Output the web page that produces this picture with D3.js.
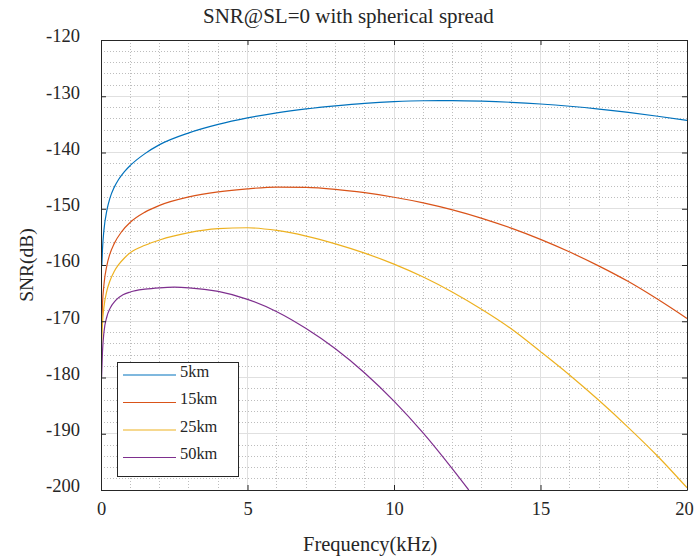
<!DOCTYPE html>
<html>
<head>
<meta charset="utf-8">
<script src="https://d3js.org/d3.v7.min.js"></script>
<style>
  body { margin: 0; background: #fff; }
  text { font-family: "Liberation Serif", "DejaVu Serif", serif; fill: #262626; }
</style>
</head>
<body>
<div id="vis"></div>
<script>
// values (frequency in kHz, SNR in dB)
const seriesNames = ['5km', '15km', '25km', '50km']
const colors = ['#0072BD', '#D95319', '#EDB120', '#7E2F8E']

const snr5 = [[0.03, -160], [0.05, -157.3], [0.1, -153.8], [0.2, -150.3], [0.3, -148.2], [0.45, -146.2], [0.6, -144.8], [0.8, -143.4], [1, -142.3], [1.5, -140.2], [2, -138.6], [3, -136.5], [4, -135.0], [5, -133.85], [6, -132.95], [7, -132.25], [8, -131.7], [9, -131.25], [10, -130.95], [11, -130.8], [12, -130.78], [13, -130.88], [14, -131.08], [15, -131.38], [16, -131.78], [17, -132.28], [18, -132.88], [19, -133.56], [20, -134.3]]
const snr15 = [[0.03, -170], [0.05, -167], [0.1, -163.5], [0.2, -160.1], [0.3, -158.1], [0.45, -156.2], [0.7, -154.1], [1, -152.4], [1.5, -150.6], [2, -149.4], [3, -147.9], [4, -147.0], [5, -146.45], [6, -146.15], [7, -146.2], [8, -146.55], [9, -147.15], [10, -147.95], [11, -148.95], [12, -150.2], [13, -151.7], [14, -153.45], [15, -155.45], [16, -157.7], [17, -160.2], [18, -162.95], [19, -166.1], [20, -169.5]]
const snr25 = [[0.02, -174], [0.05, -170.4], [0.1, -167.5], [0.2, -164.6], [0.3, -162.9], [0.45, -161.15], [0.6, -159.95], [0.8, -158.75], [1, -157.8], [1.5, -156.5], [2, -155.55], [3, -154.25], [4, -153.55], [5, -153.38], [6, -153.86], [7, -154.86], [8, -156.24], [9, -157.89], [10, -159.84], [11, -162.14], [12, -164.84], [13, -167.91], [14, -171.34], [15, -175.4], [16, -179.6], [17, -184.1], [18, -188.9], [19, -194.0], [20, -199.6]]
const snr50 = [[0.02, -180], [0.05, -175.5], [0.1, -172], [0.2, -169.2], [0.3, -167.8], [0.5, -166.3], [0.75, -165.3], [1, -164.8], [1.5, -164.3], [2, -164.05], [2.5, -163.95], [3, -164.05], [4, -164.7], [5, -166.1], [6, -168.3], [7, -171.3], [8, -174.9], [9, -179.2], [10, -184.2], [11, -189.9], [12, -196.3], [12.55, -200]]
const allSeries = [snr5, snr15, snr25, snr50]

const xTicks = [0, 5, 10, 15, 20]
const yTicks = [-200, -190, -180, -170, -160, -150, -140, -130, -120]

const width = 695
const height = 559
const margin = { top: 40, right: 8, bottom: 69, left: 101 }

const svg = d3.select('#vis').append('svg')
  .attr('width', width)
  .attr('height', height)

const x = d3.scaleLinear().domain([0, 20]).range([margin.left, width - margin.right])
const y = d3.scaleLinear().domain([-200, -120]).range([height - margin.bottom, margin.top])

const x0 = x.range()[0], x1 = x.range()[1]
const y0 = y.range()[0], y1 = y.range()[1]

// minor grid (dotted)
const grid = svg.append('g')
grid.selectAll('.minor-x').data(d3.range(1, 20).filter(d => d % 5 !== 0))
  .enter().append('line')
  .attr('x1', d => x(d)).attr('x2', d => x(d))
  .attr('y1', y1).attr('y2', y0)
  .attr('stroke', '#bdbdbd').attr('stroke-dasharray', '1,2')
  .attr('shape-rendering', 'crispEdges')
grid.selectAll('.minor-y').data(d3.range(-198, -120, 2).filter(d => d % 10 !== 0))
  .enter().append('line')
  .attr('y1', d => y(d)).attr('y2', d => y(d))
  .attr('x1', x0).attr('x2', x1)
  .attr('stroke', '#bdbdbd').attr('stroke-dasharray', '1,2')
  .attr('shape-rendering', 'crispEdges')

// major grid
grid.selectAll('.major-x').data(xTicks.slice(1, -1))
  .enter().append('line')
  .attr('x1', d => x(d)).attr('x2', d => x(d))
  .attr('y1', y1).attr('y2', y0)
  .attr('stroke', '#e0e0e0')
  .attr('shape-rendering', 'crispEdges')
grid.selectAll('.major-y').data(yTicks.slice(1, -1))
  .enter().append('line')
  .attr('y1', d => y(d)).attr('y2', d => y(d))
  .attr('x1', x0).attr('x2', x1)
  .attr('stroke', '#e0e0e0')
  .attr('shape-rendering', 'crispEdges')

// curves
svg.append('clipPath').attr('id', 'clip')
  .append('rect').attr('x', x0).attr('y', y1).attr('width', x1 - x0).attr('height', y0 - y1)

const line = d3.line()
  .x(d => x(d[0]))
  .y(d => y(d[1]))
  .curve(d3.curveMonotoneX)

svg.append('g').attr('clip-path', 'url(#clip)')
  .selectAll('path').data(allSeries)
  .enter().append('path')
  .attr('d', line)
  .attr('fill', 'none')
  .attr('stroke', (d, i) => colors[i])
  .attr('stroke-width', 1.2)

// axes, with inward ticks on all four sides
const axisColor = '#262626'
const axBottom = svg.append('g').attr('transform', `translate(0,${y0})`)
  .call(d3.axisBottom(x).tickValues(xTicks).tickSizeInner(-5).tickSizeOuter(0).tickPadding(12))
const axTop = svg.append('g').attr('transform', `translate(0,${y1})`)
  .call(d3.axisTop(x).tickValues(xTicks).tickSizeInner(-5).tickSizeOuter(0).tickFormat(''))
const axLeft = svg.append('g').attr('transform', `translate(${x0},0)`)
  .call(d3.axisLeft(y).tickValues(yTicks).tickSizeInner(-5).tickSizeOuter(0).tickPadding(21))
const axRight = svg.append('g').attr('transform', `translate(${x1},0)`)
  .call(d3.axisRight(y).tickValues(yTicks).tickSizeInner(-5).tickSizeOuter(0).tickFormat(''))

;[axBottom, axTop, axLeft, axRight].forEach(g => {
  g.select('.domain').attr('stroke', axisColor)
  g.selectAll('.tick line').attr('stroke', axisColor)
  g.selectAll('.tick text')
    .attr('font-family', '"Liberation Serif", serif')
    .attr('font-size', 18.5)
    .attr('fill', axisColor)
})
axLeft.selectAll('.tick text').text(d => String(d)).attr('dy', '0.1em')
// keep the last x label inside the page, as in the reference
axBottom.selectAll('.tick text').filter(d => d === 20).attr('dx', -3)

// labels
svg.append('text')
  .attr('x', 203).attr('y', 22.5)
  .attr('font-size', 21)
  .text('SNR@SL=0 with spherical spread')

svg.append('text')
  .attr('x', 303).attr('y', 551)
  .attr('font-size', 20.5)
  .text('Frequency(kHz)')

svg.append('text')
  .attr('transform', `translate(33,${(y0 + y1) / 2}) rotate(-90)`)
  .attr('text-anchor', 'middle')
  .attr('font-size', 19.5)
  .text('SNR(dB)')

// legend
const legend = svg.append('g').attr('transform', 'translate(117,362)')
legend.append('rect')
  .attr('width', 121).attr('height', 114)
  .attr('fill', '#fff').attr('stroke', axisColor)
  .attr('shape-rendering', 'crispEdges')

const rows = legend.selectAll('.row').data(seriesNames)
  .enter().append('g')
  .attr('transform', (d, i) => `translate(0,${13 + i * 27.5})`)
rows.append('line')
  .attr('x1', 6).attr('x2', 59)
  .attr('stroke', (d, i) => colors[i])
  .attr('stroke-width', 1.2)
rows.append('text')
  .attr('x', 63).attr('y', 0).attr('dy', '0.1em')
  .attr('font-size', 16.4)
  .text(d => d)
</script>
</body>
</html>
